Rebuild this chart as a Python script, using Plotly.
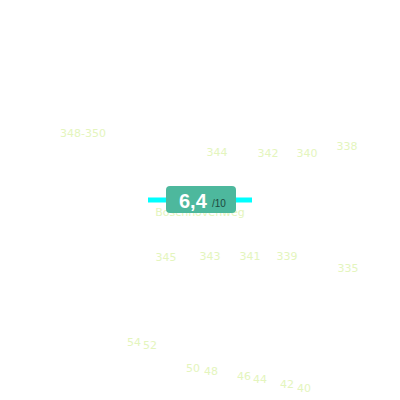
import plotly.graph_objects as go

# house numbers on the map tile (pixel-ish coordinates, y grows downwards)
numbers = ['348-350', '344', '342', '340', '338',
           '345', '343', '341', '339', '335',
           '54', '52', '50', '48', '46', '44', '42', '40']
num_x = [83, 217, 268, 307, 347,
         166, 210, 250, 287, 348,
         134, 150, 193, 211, 244, 260, 287, 304]
num_y = [134, 153, 154, 154, 147,
         258, 257, 257, 257, 269,
         343, 346, 369, 372, 377, 380, 385, 389]

street_name = 'Boschhovenweg'
street_x = [148, 252]
street_y = [200, 200]

score = '6,4'
score_max = '/10'

label_color = '#e4f5bd'
badge_color = '#4db89d'

fig = go.Figure()

# house number labels
fig.add_trace(go.Scatter(
    x=num_x, y=num_y, text=numbers, mode='text',
    textfont=dict(family='DejaVu Sans', size=11, color=label_color),
    hoverinfo='skip'
))

# street name, mostly hidden behind the badge
fig.add_trace(go.Scatter(
    x=[200], y=[213], text=[street_name], mode='text',
    textfont=dict(family='DejaVu Sans', size=11, color=label_color),
    hoverinfo='skip'
))

# highlighted street segment
fig.add_trace(go.Scatter(
    x=street_x, y=street_y, mode='lines',
    line=dict(color='#00ffff', width=5),
    hoverinfo='skip'
))

# rounded badge
x0, x1, y0, y1, r = 166, 236, 186, 213, 4
path = (f'M {x0+r},{y0} L {x1-r},{y0} Q {x1},{y0} {x1},{y0+r} '
        f'L {x1},{y1-r} Q {x1},{y1} {x1-r},{y1} L {x0+r},{y1} '
        f'Q {x0},{y1} {x0},{y1-r} L {x0},{y0+r} Q {x0},{y0} {x0+r},{y0} Z')
fig.add_shape(type='path', path=path, fillcolor=badge_color,
              line=dict(width=0), layer='above')

fig.add_annotation(x=193, y=201, text=f'<b>{score}</b>', showarrow=False,
                   font=dict(family='Liberation Sans', size=20, color='white'))
fig.add_annotation(x=219, y=203, text=score_max, showarrow=False,
                   font=dict(family='Liberation Sans', size=10, color='#1d4a3d'))

fig.update_layout(
    width=400, height=400,
    margin=dict(l=0, r=0, t=0, b=0),
    paper_bgcolor='white', plot_bgcolor='white',
    showlegend=False,
    xaxis=dict(range=[0, 400], visible=False, fixedrange=True),
    yaxis=dict(range=[400, 0], visible=False, fixedrange=True),
)

# drop the default page margin so the tile sits at the top-left corner
fig.write_html('out.html', config=dict(displayModeBar=False),
               post_script="document.body.style.margin='0';")
